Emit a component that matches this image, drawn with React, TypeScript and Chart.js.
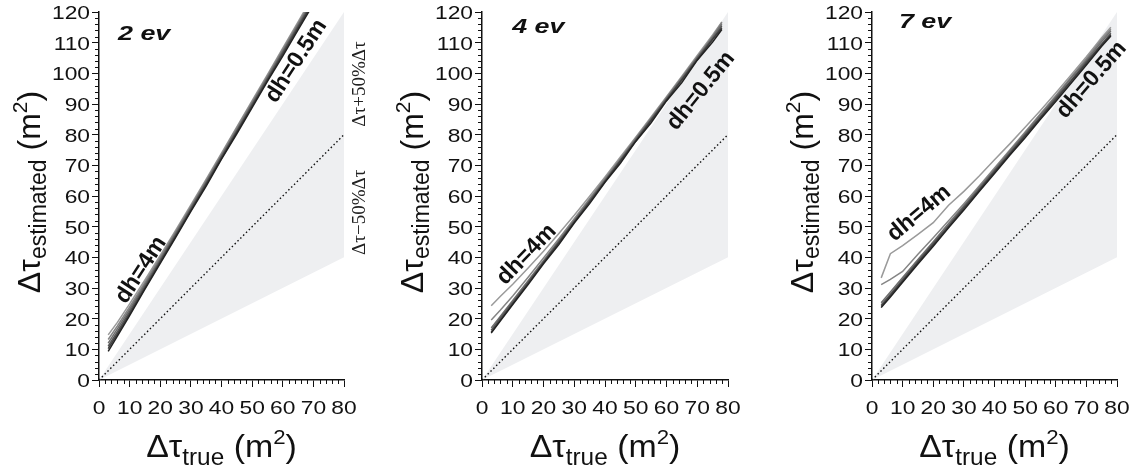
import React, { useEffect, useRef } from 'react';
import { Chart, registerables } from 'chart.js';
Chart.register(...registerables);

// ---------- data ----------
const X_TRUE = [3, 6, 10, 15, 20, 25, 30, 35, 40, 45, 50, 55, 60, 65, 70, 75, 78];
const DH_LABELS = ['dh=4m', 'dh=3m', 'dh=2m', 'dh=1.5m', 'dh=1m', 'dh=0.5m'];
const LINE_COLORS = ['#9a9a9a', '#858585', '#6e6e6e', '#565656', '#3e3e3e', '#222222'];

const EV2_DH4 = [14.7, 18.8, 24.8, 32.6, 40.6, 48.8, 57.1, 65.5, 74.0, 82.5, 91.1, 99.6, 108.2, 116.8, 125.4, 134.0, 139.0];
const EV2_DH3 = [13.2, 17.6, 23.8, 31.8, 40.0, 48.3, 56.6, 65.1, 73.6, 82.2, 90.7, 99.2, 107.8, 116.3, 124.9, 133.4, 138.5];
const EV2_DH2 = [12.0, 16.7, 23.0, 31.2, 39.4, 47.8, 56.2, 64.6, 73.1, 81.6, 90.2, 98.7, 107.2, 115.8, 124.3, 132.8, 138.0];
const EV2_DH15 = [11.0, 15.8, 22.3, 30.6, 38.9, 47.3, 55.8, 64.2, 72.8, 81.2, 89.8, 98.3, 106.8, 115.3, 123.8, 132.3, 137.5];
const EV2_DH1 = [10.2, 15.0, 21.6, 30.0, 38.5, 46.8, 55.3, 63.8, 72.3, 80.8, 89.3, 97.8, 106.3, 114.8, 123.3, 131.8, 137.0];
const EV2_DH05 = [9.3, 14.3, 21.0, 29.6, 38.0, 46.4, 55.0, 63.2, 72.0, 80.3, 88.8, 97.4, 105.6, 114.2, 122.6, 131.0, 136.0];

const EV4_DH4 = [24.2, 27.3, 31.2, 36.5, 42.0, 47.8, 53.7, 59.9, 66.2, 72.7, 79.2, 85.8, 92.4, 99.1, 105.8, 112.5, 116.8];
const EV4_DH3 = [19.6, 22.8, 27.4, 33.5, 39.8, 46.1, 52.6, 59.1, 65.7, 72.2, 78.9, 85.4, 92.1, 98.7, 105.4, 112.0, 116.6];
const EV4_DH2 = [17.0, 20.8, 25.9, 32.4, 38.9, 45.5, 52.0, 58.7, 65.2, 71.9, 78.5, 85.2, 91.8, 98.5, 105.1, 111.8, 116.0];
const EV4_DH15 = [16.2, 20.2, 25.4, 31.9, 38.5, 45.0, 51.8, 58.2, 65.0, 71.4, 78.3, 84.7, 91.6, 97.9, 104.9, 111.2, 115.4];
const EV4_DH1 = [15.6, 19.6, 24.9, 31.5, 38.2, 44.8, 51.4, 58.1, 64.6, 71.4, 77.9, 84.6, 91.2, 97.9, 104.4, 111.1, 114.8];
const EV4_DH05 = [15.3, 19.3, 24.6, 31.1, 37.9, 44.2, 51.2, 57.5, 64.5, 70.7, 77.8, 83.9, 91.0, 97.0, 104.3, 110.2, 114.3];

const EV7_DH4 = [33.3, 41.2, 43.8, 47.5, 51.3, 57.0, 61.5, 66.5, 71.8, 77.0, 82.4, 87.9, 93.6, 99.5, 105.4, 111.6, 115.0];
const EV7_DH3 = [31.1, 32.8, 35.4, 41.0, 46.4, 51.9, 57.5, 63.3, 69.1, 75.0, 80.9, 86.8, 92.7, 98.8, 104.8, 111.0, 114.4];
const EV7_DH2 = [25.2, 28.7, 33.4, 39.3, 45.1, 51.0, 56.8, 62.8, 68.6, 74.6, 80.4, 86.4, 92.3, 98.4, 104.3, 110.4, 113.8];
const EV7_DH15 = [24.5, 28.0, 32.8, 38.7, 44.6, 50.4, 56.4, 62.2, 68.2, 74.0, 80.0, 85.8, 91.9, 97.7, 103.8, 109.6, 113.1];
const EV7_DH1 = [24.0, 27.6, 32.3, 38.3, 44.1, 50.0, 55.9, 61.9, 67.8, 73.7, 79.6, 85.5, 91.4, 97.4, 103.3, 109.3, 112.6];
const EV7_DH05 = [23.6, 27.1, 31.9, 37.8, 43.6, 49.6, 55.4, 61.5, 67.3, 73.3, 79.0, 85.0, 90.8, 96.8, 102.7, 108.8, 112.2];

const BOUND_X = [0, 80];
const UPPER_Y = [0, 120]; // Δτ + 50%Δτ
const LOWER_Y = [0, 40]; // Δτ − 50%Δτ
const ONE_TO_ONE_Y = [0, 80];

const X_MAX = 80;
const Y_MAX = 120;
const MINOR_STEP = 2;
const MAJOR_STEP = 10;

const PANEL_TITLES = ['2 ev', '4 ev', '7 ev'];
const BAND_LABELS = ['Δτ+50%Δτ', 'Δτ−50%Δτ'];

// ---------- layout / style ----------
const FONT = '"Liberation Sans", Arial, Helvetica, sans-serif';
const SERIF = '"Liberation Serif", "Times New Roman", serif';
const H = 466;
const SX = 1.2; // horizontal stretch of the printed lettering

type Part = { t: string; size: number; dy: number };

function drawRich(ctx: CanvasRenderingContext2D, parts: Part[], x: number, y: number, rot: number, sx: number) {
  ctx.save();
  ctx.translate(x, y);
  ctx.rotate(rot);
  ctx.scale(sx, 1);
  ctx.fillStyle = '#111';
  ctx.textBaseline = 'alphabetic';
  ctx.textAlign = 'left';
  let total = 0;
  const widths = parts.map((p) => {
    ctx.font = `${p.size}px ${FONT}`;
    const w = ctx.measureText(p.t).width;
    total += w;
    return w;
  });
  let cx = -total / 2;
  parts.forEach((p, i) => {
    ctx.font = `${p.size}px ${FONT}`;
    ctx.fillText(p.t, cx, p.dy);
    cx += widths[i];
  });
  ctx.restore();
}

const Y_TITLE: Part[] = [
  { t: 'Δτ', size: 32, dy: 0 },
  { t: 'estimated', size: 23, dy: 6 },
  { t: ' (m', size: 32, dy: 0 },
  { t: '2', size: 21, dy: -13 },
  { t: ')', size: 32, dy: 0 },
];
const X_TITLE: Part[] = [
  { t: 'Δτ', size: 32, dy: 0 },
  { t: 'true', size: 23, dy: 8 },
  { t: ' (m', size: 32, dy: 0 },
  { t: '2', size: 21, dy: -13 },
  { t: ')', size: 32, dy: 0 },
];

type PanelCfg = {
  left: number;
  width: number;
  padRight: number;
  title: string;
  titlePos: [number, number];
  series: number[][];
  dh4: [number, number, number];
  dh05: [number, number, number];
  bandLabels: boolean;
};

const PANELS: PanelCfg[] = [
  {
    left: 0, width: 380, padRight: 36, title: PANEL_TITLES[0], titlePos: [6.2, 110.9],
    series: [EV2_DH4, EV2_DH3, EV2_DH2, EV2_DH15, EV2_DH1, EV2_DH05],
    dh4: [13.7, 35.9, 57], dh05: [64.4, 104, 57], bandLabels: true,
  },
  {
    left: 383, width: 380, padRight: 35, title: PANEL_TITLES[1], titlePos: [9.8, 113],
    series: [EV4_DH4, EV4_DH3, EV4_DH2, EV4_DH15, EV4_DH1, EV4_DH05],
    dh4: [14.5, 40.9, 46], dh05: [71.2, 94.3, 51], bandLabels: false,
  },
  {
    left: 773, width: 361, padRight: 17, title: PANEL_TITLES[2], titlePos: [8.8, 114.7],
    series: [EV7_DH4, EV7_DH3, EV7_DH2, EV7_DH15, EV7_DH1, EV7_DH05],
    dh4: [15.4, 54.4, 40], dh05: [71.7, 97.9, 49], bandLabels: false,
  },
];

function Panel({ cfg }: { cfg: PanelCfg }) {
  const ref = useRef<HTMLCanvasElement>(null);
  useEffect(() => {
    const canvas = ref.current!;
    const datasets: any[] = [];
    cfg.series.forEach((ys, i) => {
      datasets.push({
        label: DH_LABELS[i],
        data: X_TRUE.map((x, j) => ({ x, y: ys[j] })),
        borderColor: LINE_COLORS[i],
        borderWidth: 1.5,
        pointRadius: 0,
        fill: false,
        tension: 0,
        order: 20 - i,
      });
    });
    datasets.push({
      label: '1:1',
      data: BOUND_X.map((x, j) => ({ x, y: ONE_TO_ONE_Y[j] })),
      borderColor: '#111',
      borderWidth: 1.4,
      borderDash: [1.5, 2.5],
      pointRadius: 0,
      fill: false,
      order: 30,
    });
    datasets.push({
      label: 'lower',
      data: BOUND_X.map((x, j) => ({ x, y: LOWER_Y[j] })),
      borderColor: 'transparent',
      borderWidth: 0,
      pointRadius: 0,
      fill: false,
      order: 41,
    });
    datasets.push({
      label: 'upper',
      data: BOUND_X.map((x, j) => ({ x, y: UPPER_Y[j] })),
      borderColor: 'transparent',
      borderWidth: 0,
      pointRadius: 0,
      fill: '-1',
      backgroundColor: '#eeeff1',
      order: 40,
    });

    const deco = {
      id: 'deco',
      afterDraw(chart: any) {
        const { ctx, chartArea } = chart;
        const xs = chart.scales.x;
        const ysc = chart.scales.y;
        ctx.save();
        // minor ticks
        ctx.strokeStyle = '#111';
        ctx.lineWidth = 1;
        ctx.beginPath();
        xs.ticks.forEach((t: any) => {
          if (t.value % MAJOR_STEP !== 0) {
            const px = Math.round(xs.getPixelForValue(t.value)) + 0.5;
            ctx.moveTo(px, chartArea.bottom);
            ctx.lineTo(px, chartArea.bottom + 4);
          }
        });
        ysc.ticks.forEach((t: any) => {
          if (t.value % MAJOR_STEP !== 0) {
            const py = Math.round(ysc.getPixelForValue(t.value)) + 0.5;
            ctx.moveTo(chartArea.left - 4, py);
            ctx.lineTo(chartArea.left, py);
          }
        });
        ctx.stroke();

        // tick labels (stretched lettering)
        ctx.fillStyle = '#111';
        ctx.font = `19px ${FONT}`;
        xs.ticks.forEach((t: any) => {
          if (t.value % MAJOR_STEP === 0) {
            ctx.save();
            ctx.translate(xs.getPixelForValue(t.value), chartArea.bottom + 34);
            ctx.scale(SX, 1);
            ctx.textAlign = 'center';
            ctx.textBaseline = 'alphabetic';
            ctx.fillText(String(t.value), 0, 0);
            ctx.restore();
          }
        });
        ysc.ticks.forEach((t: any) => {
          if (t.value % MAJOR_STEP === 0) {
            ctx.save();
            ctx.translate(chartArea.left - 9, ysc.getPixelForValue(t.value) + 7);
            ctx.scale(SX, 1);
            ctx.textAlign = 'right';
            ctx.textBaseline = 'alphabetic';
            ctx.fillText(String(t.value), 0, 0);
            ctx.restore();
          }
        });

        // panel title
        ctx.save();
        ctx.translate(xs.getPixelForValue(cfg.titlePos[0]), ysc.getPixelForValue(cfg.titlePos[1]));
        ctx.scale(1.28, 1);
        ctx.font = `italic bold 21px ${FONT}`;
        ctx.textAlign = 'left';
        ctx.textBaseline = 'alphabetic';
        ctx.fillText(cfg.title, 0, 0);
        ctx.restore();

        // dh labels
        const dhText = (txt: string, p: [number, number, number]) => {
          ctx.save();
          ctx.translate(xs.getPixelForValue(p[0]), ysc.getPixelForValue(p[1]));
          ctx.rotate((-p[2] * Math.PI) / 180);
          ctx.font = `bold 23px ${FONT}`;
          ctx.textAlign = 'center';
          ctx.textBaseline = 'middle';
          ctx.fillStyle = '#111';
          ctx.fillText(txt, 0, 0);
          ctx.restore();
        };
        dhText(DH_LABELS[0], cfg.dh4);
        dhText(DH_LABELS[5], cfg.dh05);

        // band labels
        if (cfg.bandLabels) {
          [96.5, 54.7].forEach((v, i) => {
            ctx.save();
            ctx.translate(chartArea.right + 21, ysc.getPixelForValue(v));
            ctx.rotate(-Math.PI / 2);
            ctx.font = `19px ${SERIF}`;
            ctx.textAlign = 'center';
            ctx.textBaseline = 'alphabetic';
            ctx.fillStyle = '#222';
            ctx.fillText(BAND_LABELS[i], 0, 0);
            ctx.restore();
          });
        }
        ctx.restore();

        // axis titles
        drawRich(ctx, Y_TITLE, chartArea.left - 59, (chartArea.top + chartArea.bottom) / 2 - 4, -Math.PI / 2, 1);
        drawRich(ctx, X_TITLE, (chartArea.left + chartArea.right) / 2, 457, 0, 1.06);
      },
    };

    const gridCfg = {
      drawOnChartArea: false,
      drawTicks: true,
      tickLength: 7,
      tickColor: (c: any) => (c.tick && c.tick.value % MAJOR_STEP === 0 ? '#111' : 'transparent'),
      tickWidth: 1,
    };

    const chart = new Chart(canvas, {
      type: 'line',
      data: { datasets },
      options: {
        animation: false,
        responsive: false,
        devicePixelRatio: 1,
        layout: { padding: { left: 0, right: cfg.padRight, top: 12, bottom: 0 } },
        plugins: {
          legend: { display: false },
          tooltip: { enabled: false },
          filler: { drawTime: 'beforeDatasetsDraw' },
        },
        scales: {
          x: {
            type: 'linear',
            min: 0,
            max: X_MAX,
            afterFit: (s: any) => { s.height = H - 380; },
            border: { display: true, color: '#111', width: 1.5 },
            grid: gridCfg,
            ticks: { stepSize: MINOR_STEP, autoSkip: false, display: false },
          },
          y: {
            type: 'linear',
            min: 0,
            max: Y_MAX,
            afterFit: (s: any) => { s.width = 99; },
            border: { display: true, color: '#111', width: 1.5 },
            grid: gridCfg,
            ticks: { stepSize: MINOR_STEP, autoSkip: false, display: false },
          },
        },
      },
      plugins: [deco],
    } as any);
    return () => chart.destroy();
  }, [cfg]);
  return (
    <canvas
      ref={ref}
      width={cfg.width}
      height={H}
      style={{ position: 'absolute', left: cfg.left, top: 0, width: cfg.width, height: H }}
    />
  );
}

export default function App() {
  return (
    <div style={{ position: 'fixed', left: 0, top: 0, width: 1134, height: H, background: '#fff' }}>
      {PANELS.map((p, i) => (
        <Panel key={i} cfg={p} />
      ))}
    </div>
  );
}
